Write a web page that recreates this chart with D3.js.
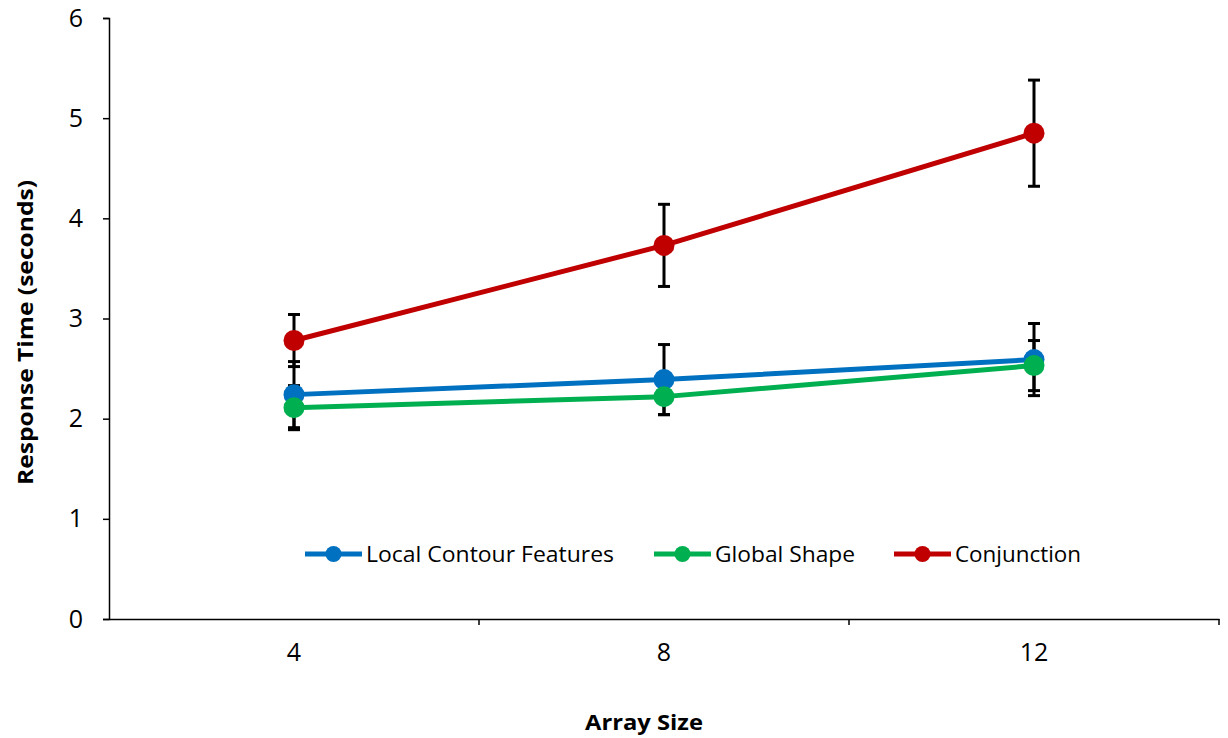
<!DOCTYPE html>
<html><head><meta charset="utf-8">
<script src="https://cdn.jsdelivr.net/npm/d3@7"></script>
<style>body{margin:0;background:#fff}svg{display:block}</style>
</head><body>
<script>
const categories = ["4", "8", "12"];
const seriesNames = ["Local Contour Features", "Global Shape", "Conjunction"];
const seriesColors = ["#0070C0", "#00B050", "#C00000"];
const localValues = [2.24, 2.39, 2.59];
const localErrors = [0.33, 0.35, 0.36];
const globalValues = [2.11, 2.22, 2.53];
const globalErrors = [0.22, 0.18, 0.25];
const conjValues = [2.78, 3.73, 4.85];
const conjErrors = [0.26, 0.41, 0.53];
const yTicks = [0, 1, 2, 3, 4, 5, 6];

const series = [
  {name: seriesNames[0], color: seriesColors[0], values: localValues, errors: localErrors},
  {name: seriesNames[1], color: seriesColors[1], values: globalValues, errors: globalErrors},
  {name: seriesNames[2], color: seriesColors[2], values: conjValues, errors: conjErrors}
];

const W = 1228, H = 738;
const m = {left: 109, right: 9, top: 18, bottom: 119};
const svg = d3.select("body").append("svg").attr("width", W).attr("height", H);
const font = "'Open Sans', sans-serif";

const x = d3.scaleBand().domain(categories).range([m.left, W - m.right]);
const y = d3.scaleLinear().domain([0, 6]).range([H - m.bottom, m.top]);

// y axis
const yAxis = svg.append("g").attr("transform", `translate(${m.left},0)`)
  .call(d3.axisLeft(y).tickValues(yTicks).tickSize(6).tickPadding(20).tickFormat(d3.format("d")));
yAxis.select(".domain").attr("stroke", "#000").attr("stroke-width", 1.5);
yAxis.selectAll(".tick line").attr("stroke", "#000").attr("stroke-width", 1.5);
yAxis.selectAll("text").attr("font-family", font).attr("font-size", 25).attr("fill", "#000");

// x axis
const xAxis = svg.append("g").attr("transform", `translate(0,${H - m.bottom})`)
  .call(d3.axisBottom(x).tickSize(0).tickPadding(24));
xAxis.select(".domain").attr("stroke", "#000").attr("stroke-width", 1.5);
xAxis.selectAll("text").attr("font-family", font).attr("font-size", 25).attr("fill", "#000");
const bounds = categories.map(c => x(c) + x.bandwidth());
xAxis.selectAll(".bt").data(bounds).enter().append("line")
  .attr("x1", d => d).attr("x2", d => d).attr("y1", 0).attr("y2", 6)
  .attr("stroke", "#000").attr("stroke-width", 1.5);

// axis titles
svg.append("text").attr("transform", `translate(33,${(m.top + H - m.bottom) / 2 + 14}) rotate(-90)`)
  .attr("text-anchor", "middle").attr("font-family", font).attr("font-weight", "bold")
  .attr("font-size", 22).attr("textLength", 305).attr("lengthAdjust", "spacingAndGlyphs")
  .text("Response Time (seconds)");
svg.append("text").attr("x", 644).attr("y", 730)
  .attr("text-anchor", "middle").attr("font-family", font).attr("font-weight", "bold")
  .attr("font-size", 22).attr("textLength", 118).attr("lengthAdjust", "spacingAndGlyphs")
  .text("Array Size");

const cx = c => x(c) + x.bandwidth() / 2;
const line = d3.line().x((d, i) => cx(categories[i])).y(d => y(d));

series.forEach(s => {
  svg.append("path").datum(s.values).attr("d", line).attr("fill", "none")
    .attr("stroke", s.color).attr("stroke-width", 5).attr("stroke-linejoin", "round");
});
series.forEach(s => {
  const g = svg.append("g");
  s.values.forEach((v, i) => {
    const px = cx(categories[i]);
    const y1 = y(v + s.errors[i]), y2 = y(v - s.errors[i]);
    g.append("line").attr("x1", px).attr("x2", px).attr("y1", y1).attr("y2", y2).attr("stroke", "#000").attr("stroke-width", 3);
    [y1, y2].forEach(yy => g.append("line").attr("x1", px - 6).attr("x2", px + 6).attr("y1", yy).attr("y2", yy).attr("stroke", "#000").attr("stroke-width", 3));
  });
});
series.forEach(s => {
  svg.append("g").selectAll("circle").data(s.values).enter().append("circle")
    .attr("cx", (d, i) => cx(categories[i])).attr("cy", d => y(d)).attr("r", 10.5).attr("fill", s.color);
});

// legend
const legX = [305, 654, 894];
const legLen = [248, 140, 126];
const lg = svg.append("g").attr("transform", "translate(0,554)");
series.forEach((s, i) => {
  const g = lg.append("g").attr("transform", `translate(${legX[i]},0)`);
  g.append("line").attr("x1", 0).attr("x2", 57).attr("y1", 0).attr("y2", 0).attr("stroke", s.color).attr("stroke-width", 5);
  g.append("circle").attr("cx", 28.5).attr("cy", 0).attr("r", 8).attr("fill", s.color);
  g.append("text").attr("x", 61).attr("y", 8).attr("font-family", font).attr("font-size", 21)
    .attr("textLength", legLen[i]).attr("lengthAdjust", "spacingAndGlyphs").text(s.name);
});
</script>
</body></html>
